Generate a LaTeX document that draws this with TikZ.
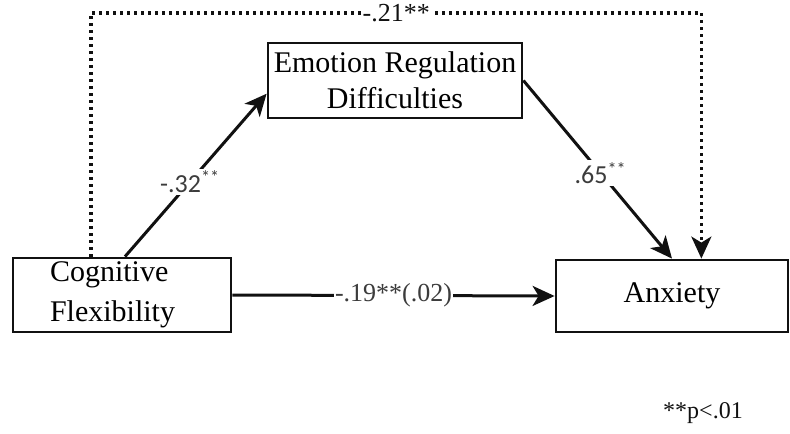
\documentclass[tikz,border=0pt]{standalone}
\usepackage{fontspec}
\setmainfont{Liberation Serif}
\newfontfamily\coeffont{Carlito}
\usepackage{tikz}
\usetikzlibrary{arrows.meta, positioning, calc}
\definecolor{inkcolor}{HTML}{111111}
\definecolor{coefgray}{HTML}{3C3C3C}

\tikzset{
  varbox/.style={draw=inkcolor, line width=1.4pt, fill=white, inner sep=0pt, align=center,
    font=\fontsize{15}{18}\selectfont},
  patharrow/.style={draw=inkcolor, line width=1.5pt,
    -{Stealth[length=11pt, width=10pt, inset=3pt]}},
  dotarrow/.style={draw=inkcolor, line width=1.6pt, dash pattern=on 1.5pt off 2pt,
    -{Stealth[length=11pt, width=10pt, inset=3pt]}},
  coef/.style={fill=white, text=coefgray, inner sep=1pt, font=\coeffont\fontsize{13}{15}\selectfont},
  coefserif/.style={fill=white, text=coefgray, inner sep=0.5pt, font=\fontsize{13}{15}\selectfont}
}

\begin{document}
\begin{tikzpicture}[x=0.5pt, y=-0.5pt]
    \useasboundingbox (0,0) rectangle (790,433);
    % Variables
    \node[varbox, minimum width=127pt, minimum height=37.5pt] (erd) at (395,80.5)
        {Emotion Regulation\\Difficulties};
    \node[varbox, align=left, text width=72pt, inner xsep=18.5pt, minimum height=37pt,
        font=\fontsize{15}{20}\selectfont] (cf) at (122,295) {Cognitive\\Flexibility};
    \node[varbox, minimum width=116pt, minimum height=36pt] (anx) at (672,296) {Anxiety};
    % Total effect (dotted)
    \coordinate (topline) at (0,13);
    \coordinate (dotstart) at ($(cf.north west)!0.36!(cf.north east)$);
    \coordinate (dotend) at ($(anx.north west)!0.625!(anx.north east)$);
    \draw[dotarrow] (dotstart) -- (dotstart |- topline)
        -- node[coefserif, text=inkcolor, font=\fontsize{13}{15}\selectfont] {-.21**} (dotend |- topline)
        -- (dotend);
    % Indirect paths
    \draw[patharrow] ([xshift=1.5pt]cf.north) -- node[coef, pos=0.46] {-.32\textsuperscript{**}}
        ($(erd.south west)!0.33!(erd.north west)$);
    \draw[patharrow] (erd.east) -- node[coef, pos=0.52] {.65\textsuperscript{**}} (anx.north);
    % Direct path
    \draw[patharrow] (cf.east) -- node[coefserif] {-.19**(.02)} (anx.west);
    % Note
    \node[font=\fontsize{12}{14}\selectfont, text=inkcolor] (note) at (703,413) {**p<.01};
\end{tikzpicture}
\end{document}
